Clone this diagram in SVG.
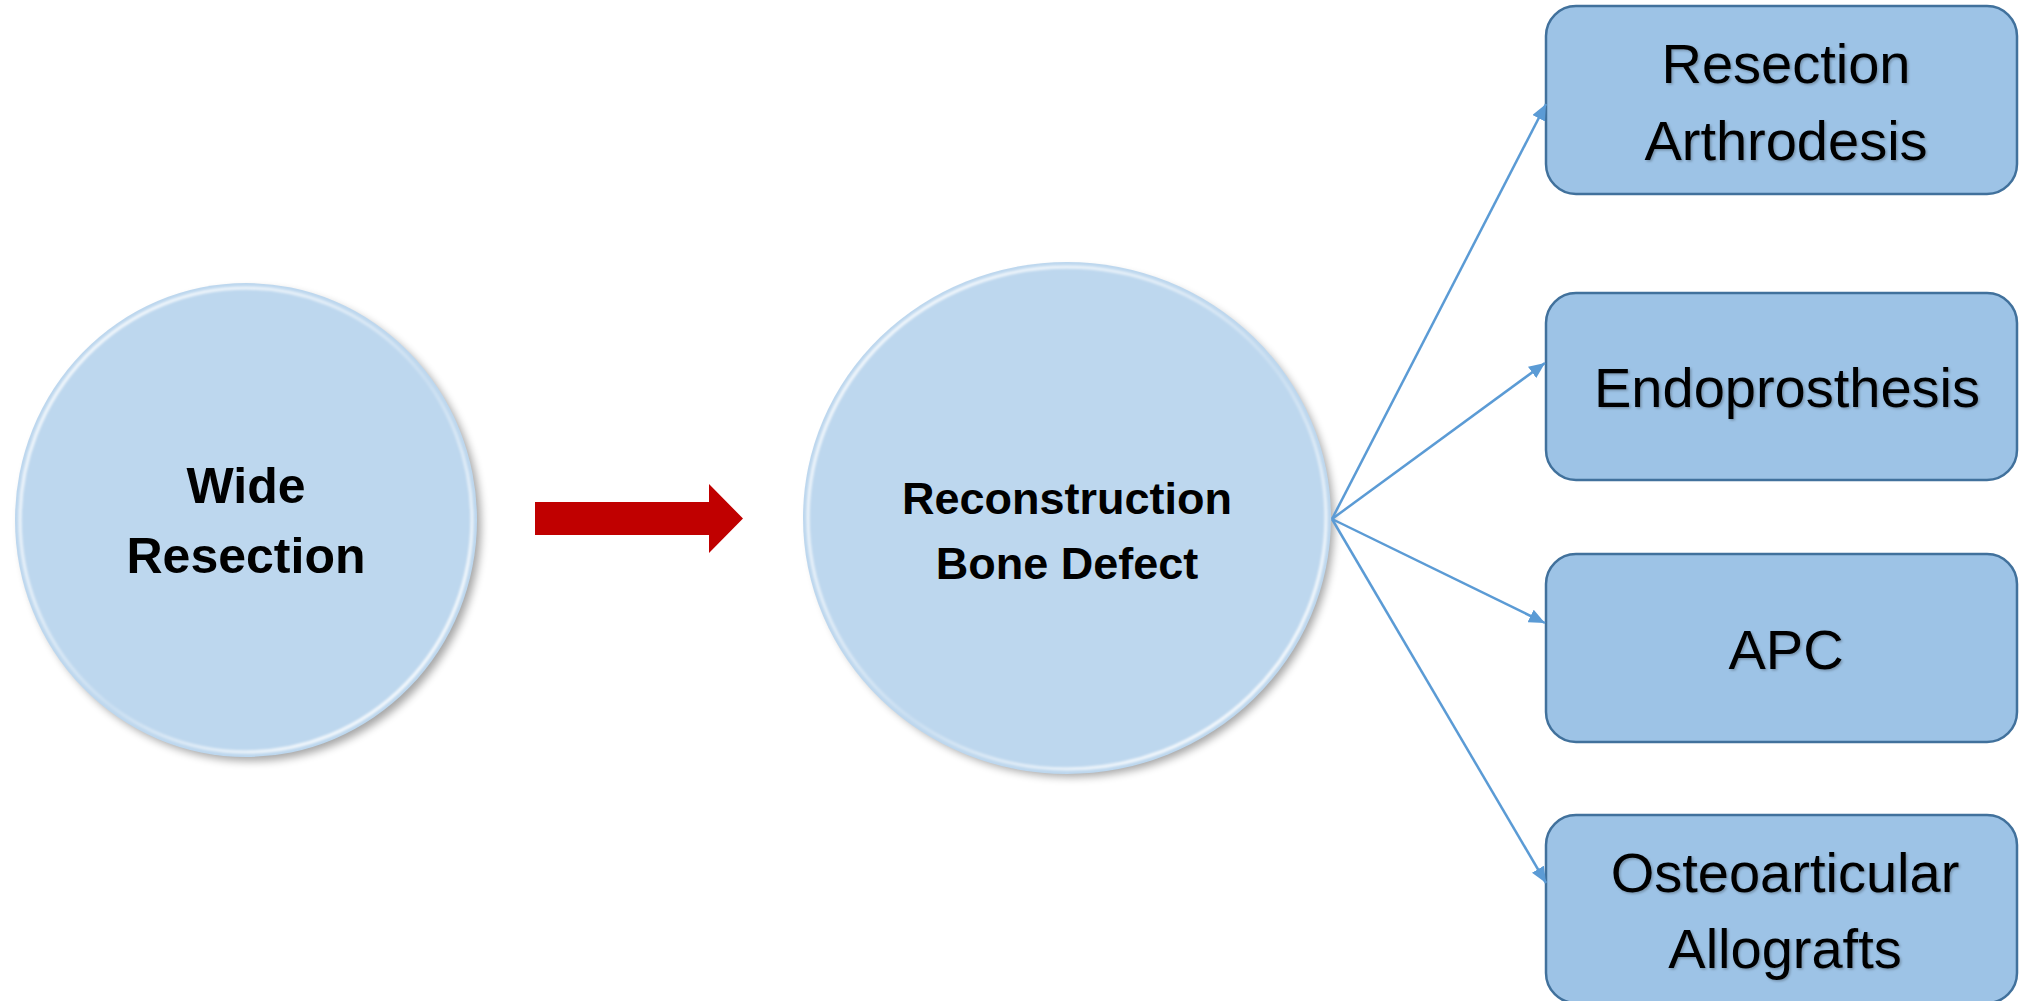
<svg xmlns="http://www.w3.org/2000/svg" width="2019" height="1001" viewBox="0 0 2019 1001">
  <defs>
    <style>
      .disc { fill: #BDD7EE; }
      .rim { fill: none; stroke: url(#rimGlow); stroke-width: 3.5; }
      .disc-label { font-family: "Liberation Sans", Arial, sans-serif; font-weight: bold; fill: #000000; text-anchor: middle; }
      .box { fill: #9DC3E6; stroke: #41719C; stroke-width: 2.5; }
      .box-label { font-family: "Liberation Sans", Arial, sans-serif; font-size: 56px; fill: #000000; text-anchor: middle; filter: url(#textShadow); }
      .link { fill: none; stroke: #5B9BD5; stroke-width: 2.5; marker-end: url(#tip); }
    </style>
    <!-- bevel highlight: bright on the upper-left and lower-right arcs -->
    <linearGradient id="rimGlow" x1="0" y1="0" x2="1" y2="1">
      <stop offset="0" stop-color="#FFFFFF" stop-opacity="0.9"/>
      <stop offset="0.35" stop-color="#FFFFFF" stop-opacity="0.55"/>
      <stop offset="0.55" stop-color="#FFFFFF" stop-opacity="0.2"/>
      <stop offset="0.8" stop-color="#FFFFFF" stop-opacity="0.75"/>
      <stop offset="1" stop-color="#FFFFFF" stop-opacity="0.9"/>
    </linearGradient>
    <filter id="discShadow" x="-20%" y="-20%" width="140%" height="140%">
      <feGaussianBlur stdDeviation="4"/>
    </filter>
    <filter id="rimBlur" x="-10%" y="-10%" width="120%" height="120%">
      <feGaussianBlur stdDeviation="0.8"/>
    </filter>
    <filter id="textShadow" x="-10%" y="-20%" width="120%" height="150%">
      <feDropShadow dx="1.5" dy="1.5" stdDeviation="1" flood-color="#000000" flood-opacity="0.25"/>
    </filter>
    <marker id="tip" viewBox="0 0 16 14" refX="16" refY="7" markerWidth="16" markerHeight="14" markerUnits="userSpaceOnUse" orient="auto">
      <path d="M0,0 L16,7 L0,14 Z" fill="#5B9BD5"/>
    </marker>
  </defs>

  <rect width="2019" height="1001" fill="#FFFFFF"/>

  <!-- Wide Resection -->
  <g id="node-wide-resection">
    <ellipse cx="251" cy="525" rx="230" ry="236" fill="#000000" opacity="0.35" filter="url(#discShadow)"/>
    <ellipse class="disc" cx="246" cy="520" rx="231" ry="237"/>
    <ellipse class="rim" cx="246" cy="520" rx="226" ry="232" filter="url(#rimBlur)"/>
    <text class="disc-label" font-size="50" x="246" y="503">Wide</text>
    <text class="disc-label" font-size="50" x="246" y="573">Resection</text>
  </g>

  <!-- Reconstruction Bone Defect -->
  <g id="node-reconstruction">
    <ellipse cx="1072" cy="523" rx="262" ry="254" fill="#000000" opacity="0.35" filter="url(#discShadow)"/>
    <ellipse class="disc" cx="1067" cy="518" rx="264" ry="256"/>
    <ellipse class="rim" cx="1067" cy="518" rx="259" ry="251" filter="url(#rimBlur)"/>
    <text class="disc-label" font-size="45" x="1067" y="514">Reconstruction</text>
    <text class="disc-label" font-size="45" x="1067" y="579">Bone Defect</text>
  </g>

  <!-- Block arrow between the two discs -->
  <g id="flow-arrow">
    <polygon points="535,502 709,502 709,484 743,518.5 709,553 709,535 535,535" fill="#C00000"/>
  </g>

  <!-- Options -->
  <g id="node-resection-arthrodesis">
    <rect class="box" x="1546" y="6" width="471" height="188" rx="30" ry="30"/>
    <text class="box-label" x="1786" y="83">Resection</text>
    <text class="box-label" x="1786" y="160">Arthrodesis</text>
  </g>

  <g id="node-endoprosthesis">
    <rect class="box" x="1546" y="293" width="471" height="187" rx="30" ry="30"/>
    <text class="box-label" x="1787" y="407">Endoprosthesis</text>
  </g>

  <g id="node-apc">
    <rect class="box" x="1546" y="554" width="471" height="188" rx="30" ry="30"/>
    <text class="box-label" x="1786" y="669">APC</text>
  </g>

  <g id="node-osteoarticular-allografts">
    <rect class="box" x="1546" y="815" width="471" height="188" rx="30" ry="30"/>
    <text class="box-label" x="1785" y="892">Osteoarticular</text>
    <text class="box-label" x="1785" y="968">Allografts</text>
  </g>

  <!-- Connectors fanning out from the reconstruction disc -->
  <g id="connectors">
    <line class="link" x1="1332" y1="519" x2="1546" y2="104"/>
    <line class="link" x1="1332" y1="519" x2="1545" y2="363"/>
    <line class="link" x1="1332" y1="519" x2="1545" y2="623"/>
    <line class="link" x1="1332" y1="519" x2="1546" y2="883"/>
  </g>
</svg>
